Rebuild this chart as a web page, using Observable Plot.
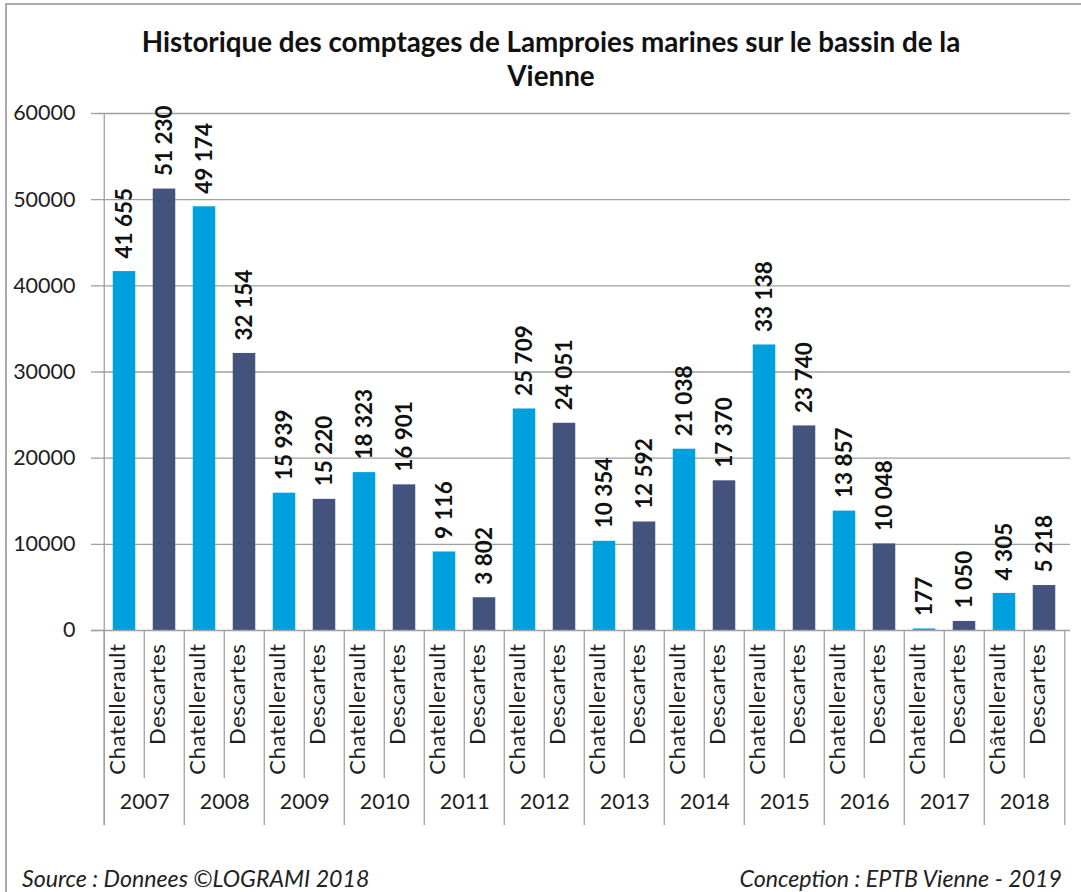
<!DOCTYPE html>
<html>
<head>
<meta charset="utf-8">
<script src="https://cdn.jsdelivr.net/npm/d3@7"></script>
<script src="https://cdn.jsdelivr.net/npm/@observablehq/plot@0.6"></script>
<style>
  html, body { margin: 0; padding: 0; background: #fff; }
  #wrap { position: relative; width: 1081px; height: 892px; overflow: hidden; font-family: Lato, "Open Sans", sans-serif; }
  #frame { position: absolute; left: 5px; top: 3px; right: -10px; bottom: -10px; border-left: 2px solid #ababab; border-top: 2px solid #ababab; pointer-events: none; }
  #title { position: absolute; left: 51px; width: 1000px; top: 25px; text-align: center; font-weight: bold; font-size: 27.8px; line-height: 34px; color: #111; }
  .foot { position: absolute; top: 864px; font-style: italic; font-size: 23.2px; color: #222; }
</style>
</head>
<body>
<div id="wrap">
  <div id="chart"></div>
  <div id="frame"></div>
  <div id="title">Historique des comptages de Lamproies marines sur le bassin de la<br>Vienne</div>
  <div class="foot" style="left:22px">Source : Donnees ©LOGRAMI 2018</div>
  <div class="foot" style="right:19px">Conception : EPTB Vienne - 2019</div>
</div>
<script>
// ---- data ----
const years = [2007, 2008, 2009, 2010, 2011, 2012, 2013, 2014, 2015, 2016, 2017, 2018];
const chatellerault = [41655, 49174, 15939, 18323, 9116, 25709, 10354, 21038, 33138, 13857, 177, 4305];
const descartes = [51230, 32154, 15220, 16901, 3802, 24051, 12592, 17370, 23740, 10048, 1050, 5218];
const chatLabels = ["Chatellerault", "Chatellerault", "Chatellerault", "Chatellerault", "Chatellerault", "Chatellerault",
  "Chatellerault", "Chatellerault", "Chatellerault", "Chatellerault", "Chatellerault", "Châtellerault"];
const descLabels = ["Descartes", "Descartes", "Descartes", "Descartes", "Descartes", "Descartes",
  "Descartes", "Descartes", "Descartes", "Descartes", "Descartes", "Descartes"];
const stations = ["Chatellerault", "Descartes"];
const yTicks = [0, 10000, 20000, 30000, 40000, 50000, 60000];

// ---- table built from the arrays ----
const rows = [];
years.forEach((yr, i) => {
  rows.push({key: yr + "|C", year: yr, station: stations[0], label: chatLabels[i], value: chatellerault[i]});
  rows.push({key: yr + "|D", year: yr, station: stations[1], label: descLabels[i], value: descartes[i]});
});
const keys = rows.map(d => d.key);
const chatRows = rows.filter(d => d.station === stations[0]);
const descRows = rows.filter(d => d.station === stations[1]);

// ---- layout ----
const W = 1081, H = 892;
const ML = 98, MR = 11, MT = 113, MB = 262;
const frameW = W - ML - MR, frameH = H - MT - MB;
const step = frameW / keys.length;
const barInset = 8.75;
const grey = "#a0a0a0";
const txt = "#1e1e1e";

const fr = d3.formatLocale({decimal: ",", thousands: "\u00a0", grouping: [3], currency: ["", ""]});
const fmt = fr.format(",d");

const chart = Plot.plot({
  width: W, height: H,
  marginLeft: ML, marginRight: MR, marginTop: MT, marginBottom: MB,
  style: {fontFamily: "Lato, 'Open Sans', sans-serif", background: "transparent", overflow: "visible"},
  x: {type: "band", domain: keys, padding: 0, axis: null},
  y: {domain: [0, 60000], nice: false, axis: null},
  color: {domain: stations, range: ["#009fdd", "#44527e"]},
  marks: [
    // gridlines
    Plot.ruleY(yTicks.filter(d => d > 0), {stroke: grey, strokeWidth: 1.3}),
    // y tick marks
    Plot.ruleY(yTicks, {insetLeft: -7, insetRight: frameW, stroke: grey, strokeWidth: 1.3}),
    // y tick labels
    Plot.text(yTicks, {y: d => d, text: d => String(d), frameAnchor: "left", dx: -23, textAnchor: "end", fontSize: 21.5, fill: txt}),
    // bars
    Plot.barY(rows, {x: "key", y: "value", fill: "station", insetLeft: barInset, insetRight: barInset}),
    // value labels
    Plot.text(rows, {x: "key", y: "value", text: d => fmt(d.value), rotate: -90, textAnchor: "start", dy: -13,
      fontSize: 22.5, fontWeight: "bold", fill: "#111"}),
    // baseline
    Plot.ruleY([0], {insetLeft: -7, stroke: grey, strokeWidth: 1.3}),
    // left axis line + year separators
    Plot.ruleX([keys[0]], {x: d => d, dx: -step / 2, insetBottom: -195, stroke: grey, strokeWidth: 1.3}),
    Plot.ruleX(chatRows, {x: "key", dx: -step / 2, insetTop: frameH, insetBottom: -195, stroke: grey, strokeWidth: 1.3}),
    Plot.ruleX([keys[keys.length - 1]], {x: d => d, dx: step / 2, insetTop: frameH, insetBottom: -195, stroke: grey, strokeWidth: 1.3}),
    // separators between stations
    Plot.ruleX(descRows, {x: "key", dx: -step / 2, insetTop: frameH, insetBottom: -148, stroke: grey, strokeWidth: 1.3}),
    // station labels
    Plot.text(rows, {x: "key", text: "label", frameAnchor: "bottom", rotate: -90, textAnchor: "end", dy: 13,
      fontSize: 22, fill: txt}),
    // year labels
    Plot.text(chatRows, {x: "key", text: d => String(d.year), frameAnchor: "bottom", dx: step / 2, dy: 178,
      fontSize: 21.5, fill: txt})
  ]
});
// slightly open up the station labels, as in the reference
const labelSet = new Set([...chatLabels, ...descLabels]);
d3.select(chart).selectAll("text")
  .filter(function() { return labelSet.has(this.textContent); })
  .attr("letter-spacing", "0.6px");
document.getElementById("chart").appendChild(chart);
</script>
</body>
</html>
